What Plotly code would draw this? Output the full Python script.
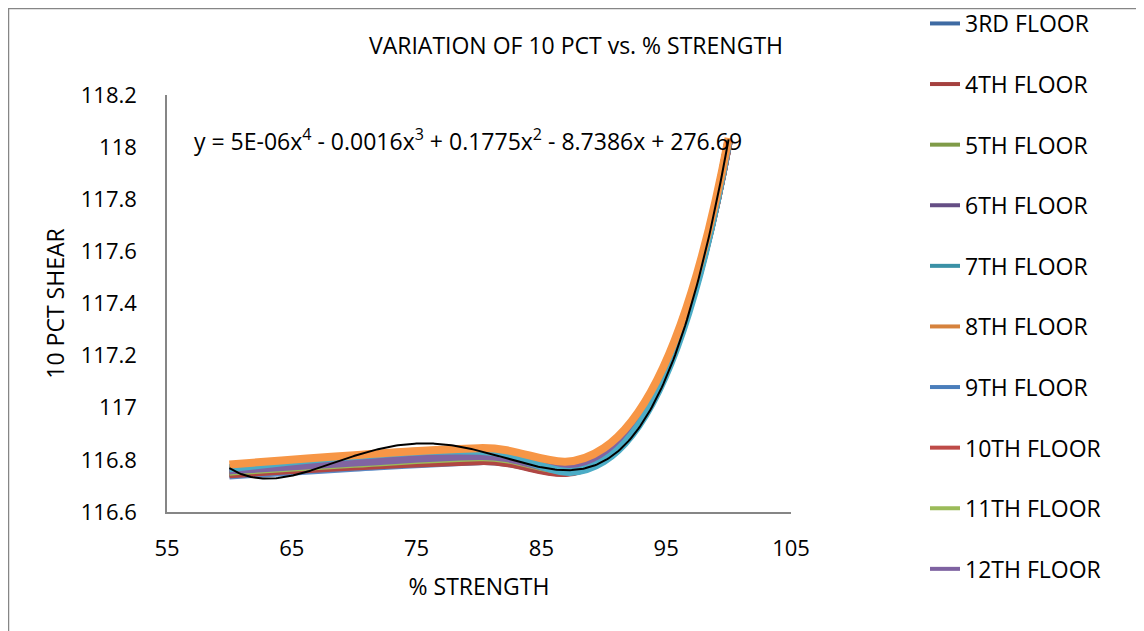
import numpy as np
import plotly.graph_objects as go

# ---- data ----
strength = [60, 70, 80, 90, 100]
floors = ["3RD FLOOR", "4TH FLOOR", "5TH FLOOR", "6TH FLOOR", "7TH FLOOR",
          "8TH FLOOR", "9TH FLOOR", "10TH FLOOR", "11TH FLOOR", "12TH FLOOR"]
floor3 = [116.745, 116.775, 116.800, 116.810, 118.020]
floor4 = [116.750, 116.780, 116.800, 116.805, 118.020]
floor5 = [116.755, 116.790, 116.815, 116.815, 118.025]
floor6 = [116.760, 116.795, 116.820, 116.815, 118.025]
floor7 = [116.768, 116.815, 116.835, 116.795, 118.030]
floor8 = [116.782, 116.818, 116.845, 116.845, 118.035]
floor9 = [116.740, 116.770, 116.795, 116.810, 118.020]
floor10 = [116.745, 116.775, 116.795, 116.805, 118.020]
floor11 = [116.755, 116.785, 116.810, 116.815, 118.025]
floor12 = [116.760, 116.790, 116.815, 116.815, 118.025]
series = [floor3, floor4, floor5, floor6, floor7, floor8, floor9, floor10, floor11, floor12]

x_ticks = [55, 65, 75, 85, 95, 105]
y_ticks = [116.6, 116.8, 117, 117.2, 117.4, 117.6, 117.8, 118, 118.2]
y_tick_text = ["116.6", "116.8", "117", "117.2", "117.4", "117.6", "117.8", "118", "118.2"]

# ---- styles ----
legend_colors = ["#3E6BA3", "#A5413F", "#7F9B48", "#654E85", "#3A91A6",
                 "#D6823D", "#4A7EBB", "#BE4B48", "#9BBB59", "#7E62A1"]
line_colors = ["#4F81BD", "#9E3D3B", "#8CAA50", "#705A96", "#4BACC6",
               "#F79646", "#5B8AC6", "#B04643", "#9BBB59", "#8064A2"]
draw_order = [0, 6, 1, 7, 2, 8, 3, 9, 4, 5]
FONT = "Open Sans"

fig = go.Figure()
for i in draw_order:
    fig.add_trace(go.Scatter(x=strength, y=series[i], mode="lines",
                             line=dict(color=line_colors[i], width=8, shape="spline", smoothing=1.3),
                             showlegend=False, hoverinfo="skip"))

# polynomial trendline (order 4) of 7TH FLOOR
coef = np.polyfit(strength, floor7, 4)
xt = np.linspace(min(strength), max(strength), 300)
fig.add_trace(go.Scatter(x=xt, y=np.polyval(coef, xt), mode="lines",
                         line=dict(color="black", width=2), showlegend=False, hoverinfo="skip"))

for i, name in enumerate(floors):
    fig.add_trace(go.Scatter(x=[None], y=[None], mode="lines", name=name,
                             legendgroup=name,
                             line=dict(color=legend_colors[i], width=4)))

# figure pixel coordinates (page is offset by 8px body margin)
L, R, T, B = 159, 361, 87, 127
W, H = 1144, 631
pw, ph = W - L - R, H - T - B

def px_x(p):
    return (p - L) / pw

def px_y(p):
    return (H - B - p) / ph

fig.update_layout(
    width=W, height=H,
    margin=dict(l=L, r=R, t=T, b=B, autoexpand=False),
    paper_bgcolor="white", plot_bgcolor="white",
    font=dict(family=FONT, size=22, color="black"),
    title=dict(text="VARIATION OF 10 PCT vs. % STRENGTH", xref="container", x=568 / W, xanchor="center",
               yref="container", y=1 - 38 / H, yanchor="middle",
               font=dict(family=FONT, size=23, color="black")),
    xaxis=dict(range=[55, 105], tickvals=x_ticks, showgrid=False, zeroline=False,
               showline=True, linecolor="#868686", linewidth=1.5, ticks="",
               tickfont=dict(size=22), ticklabelstandoff=16,
               title=dict(text="% STRENGTH", font=dict(size=23), standoff=18)),
    yaxis=dict(range=[116.6, 118.2], tickvals=y_ticks, ticktext=y_tick_text, showgrid=False,
               zeroline=False, showline=True, linecolor="#868686", linewidth=1.5, ticks="",
               tickfont=dict(size=22), ticklabelstandoff=24,
               title=dict(text="10 PCT SHEAR", font=dict(size=23), standoff=10)),
    legend=dict(x=px_x(917), y=px_y(-6), xanchor="left", yanchor="top",
                font=dict(family=FONT, size=23, color="black"), tracegroupgap=27.7,
                bgcolor="rgba(0,0,0,0)", maxheight=700),
    showlegend=True,
)

fig.add_annotation(xref="paper", yref="paper", x=px_x(184), y=px_y(132), xanchor="left", yanchor="middle",
                   text="y = 5E-06x<sup>4</sup> - 0.0016x<sup>3</sup> + 0.1775x<sup>2</sup> - 8.7386x + 276.69",
                   showarrow=False, font=dict(family=FONT, size=23, color="black"))

fig.add_shape(type="rect", xref="paper", yref="paper", x0=px_x(0.5), x1=px_x(1160), y0=px_y(650), y1=px_y(0.5),
              line=dict(color="#868686", width=1.5), fillcolor="rgba(0,0,0,0)", layer="below")

fig.write_html("out.html")
